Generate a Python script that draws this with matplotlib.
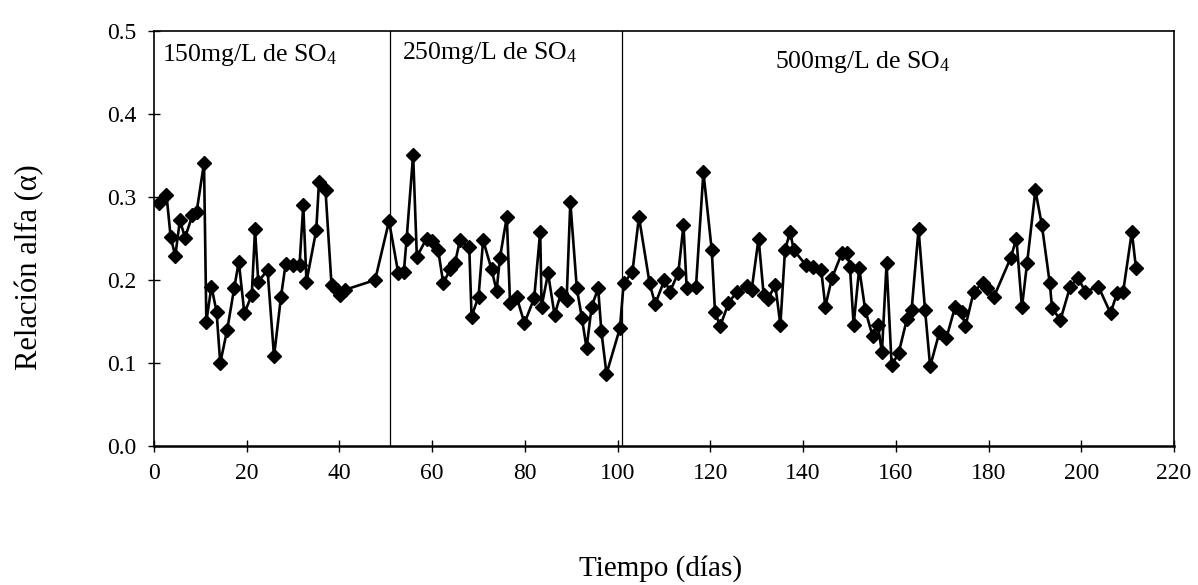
import numpy as np
import matplotlib
matplotlib.use('Agg')
import matplotlib.pyplot as plt

plt.rcParams['font.family'] = ['Liberation Serif', 'DejaVu Serif']
plt.rcParams['mathtext.fontset'] = 'custom'
plt.rcParams['mathtext.rm'] = 'Liberation Serif'
plt.rcParams['mathtext.default'] = 'regular'

# days of operation and alpha ratio, one array per sulphate stage
dias_150 = [1.0, 2.7, 3.6, 4.6, 5.6, 6.7, 8.3, 9.2, 10.8, 11.3, 12.4, 13.5, 14.3,
            15.8, 17.3, 18.3, 19.5, 21.1, 21.8, 22.5, 24.5, 25.9, 27.4, 28.4,
            29.9, 31.4, 32.2, 32.9, 35.0, 35.6, 37.0, 38.3, 39.4, 40.1, 41.1,
            47.7, 50.7]
alfa_150 = [0.293, 0.303, 0.252, 0.229, 0.272, 0.251, 0.278, 0.282, 0.341, 0.150,
            0.192, 0.162, 0.100, 0.140, 0.190, 0.222, 0.160, 0.182, 0.261, 0.198,
            0.212, 0.108, 0.180, 0.219, 0.218, 0.218, 0.290, 0.198, 0.260, 0.318,
            0.308, 0.194, 0.188, 0.182, 0.188, 0.200, 0.271]

dias_250 = [52.7, 53.9, 54.5, 55.9, 56.7, 58.8, 59.9, 61.3, 62.4, 63.9, 64.9, 66.0,
            68.0, 68.5, 70.0, 71.0, 72.8, 73.9, 74.6, 76.1, 76.8, 78.2, 79.9,
            82.0, 83.3, 83.6, 85.0, 86.4, 87.8, 89.0, 89.8, 91.2, 92.3, 93.3,
            94.4, 95.8, 96.5, 97.6, 100.5]
alfa_250 = [0.208, 0.210, 0.250, 0.351, 0.228, 0.250, 0.247, 0.236, 0.196, 0.213,
            0.220, 0.248, 0.240, 0.156, 0.180, 0.248, 0.213, 0.187, 0.226, 0.276,
            0.172, 0.180, 0.148, 0.178, 0.258, 0.168, 0.208, 0.158, 0.184, 0.176,
            0.294, 0.190, 0.154, 0.118, 0.168, 0.190, 0.138, 0.087, 0.142]

dias_500 = [101.3, 103.2, 104.6, 106.9, 108.1, 110.1, 111.3, 113.1, 114.2, 114.9,
            116.9, 118.5, 120.3, 121.0, 122.1, 123.9, 125.7, 127.8, 128.9, 130.4,
            131.5, 132.4, 134.0, 135.1, 136.1, 137.2, 138.0, 140.6, 142.2, 143.9,
            144.8, 146.2, 148.4, 149.5, 150.1, 150.9, 152.1, 153.4, 155.0, 156.1,
            157.0, 158.0, 159.1, 160.6, 162.4, 163.4, 164.9, 166.3, 167.4, 169.4,
            170.9, 172.8, 174.2, 175.0, 176.8, 178.7, 179.6, 181.1, 184.8, 186.0,
            187.2, 188.3, 190.1, 191.5, 193.2, 193.7, 195.5, 197.6, 199.3, 200.9,
            203.7, 206.3, 207.7, 209.0, 210.9, 211.8]
alfa_500 = [0.196, 0.210, 0.276, 0.196, 0.171, 0.200, 0.186, 0.209, 0.266, 0.190,
            0.192, 0.330, 0.236, 0.162, 0.144, 0.172, 0.186, 0.193, 0.188, 0.250,
            0.182, 0.177, 0.194, 0.146, 0.236, 0.258, 0.236, 0.218, 0.216, 0.212,
            0.168, 0.202, 0.233, 0.233, 0.216, 0.146, 0.214, 0.164, 0.132, 0.146,
            0.113, 0.220, 0.097, 0.112, 0.153, 0.164, 0.261, 0.164, 0.096, 0.137,
            0.130, 0.168, 0.161, 0.144, 0.186, 0.196, 0.190, 0.179, 0.227, 0.250,
            0.167, 0.220, 0.308, 0.266, 0.196, 0.166, 0.152, 0.192, 0.202, 0.186,
            0.192, 0.160, 0.184, 0.185, 0.258, 0.214]

limites = [51, 101]
etapas = ['150mg/L de SO$_4$', '250mg/L de SO$_4$', '500mg/L de SO$_4$']
etapas_x = [1.7, 53.4, 134.0]
etapas_y = [0.471, 0.474, 0.463]

dias = dias_150 + dias_250 + dias_500
alfa = alfa_150 + alfa_250 + alfa_500

fig = plt.figure(figsize=(11.98, 5.85), dpi=100)
ax = fig.add_axes([0.1285, 0.2376, 0.8515, 0.7094])

ax.plot(dias, alfa, color='black', linewidth=1.9, marker='D', markersize=7.6,
        markerfacecolor='black', markeredgecolor='black')

for lim in limites:
    ax.axvline(lim, color='black', linewidth=0.9)

for txt, tx, ty in zip(etapas, etapas_x, etapas_y):
    ax.text(tx, ty, txt, fontsize=18.5, va='center', ha='left')

ax.set_xlim(0, 220)
ax.set_ylim(0, 0.5)
ax.set_xticks(np.arange(0, 221, 20))
ax.set_yticks(np.arange(0, 0.51, 0.1))
ax.set_yticklabels(['%.1f' % v for v in np.arange(0, 0.51, 0.1)])
ax.tick_params(direction='inout', length=9, width=1.0, labelsize=17, pad=8)
for s in ax.spines.values():
    s.set_linewidth(1.2)
ax.spines['bottom'].set_linewidth(1.8)

fig.text(30 / 1198, 0.544, 'Relación alfa (α)', rotation=90, fontsize=22,
         ha='center', va='center')
fig.text(0.551, 0.028, 'Tiempo (días)', fontsize=21, ha='center', va='center')

fig.savefig('out.png', dpi=100)
